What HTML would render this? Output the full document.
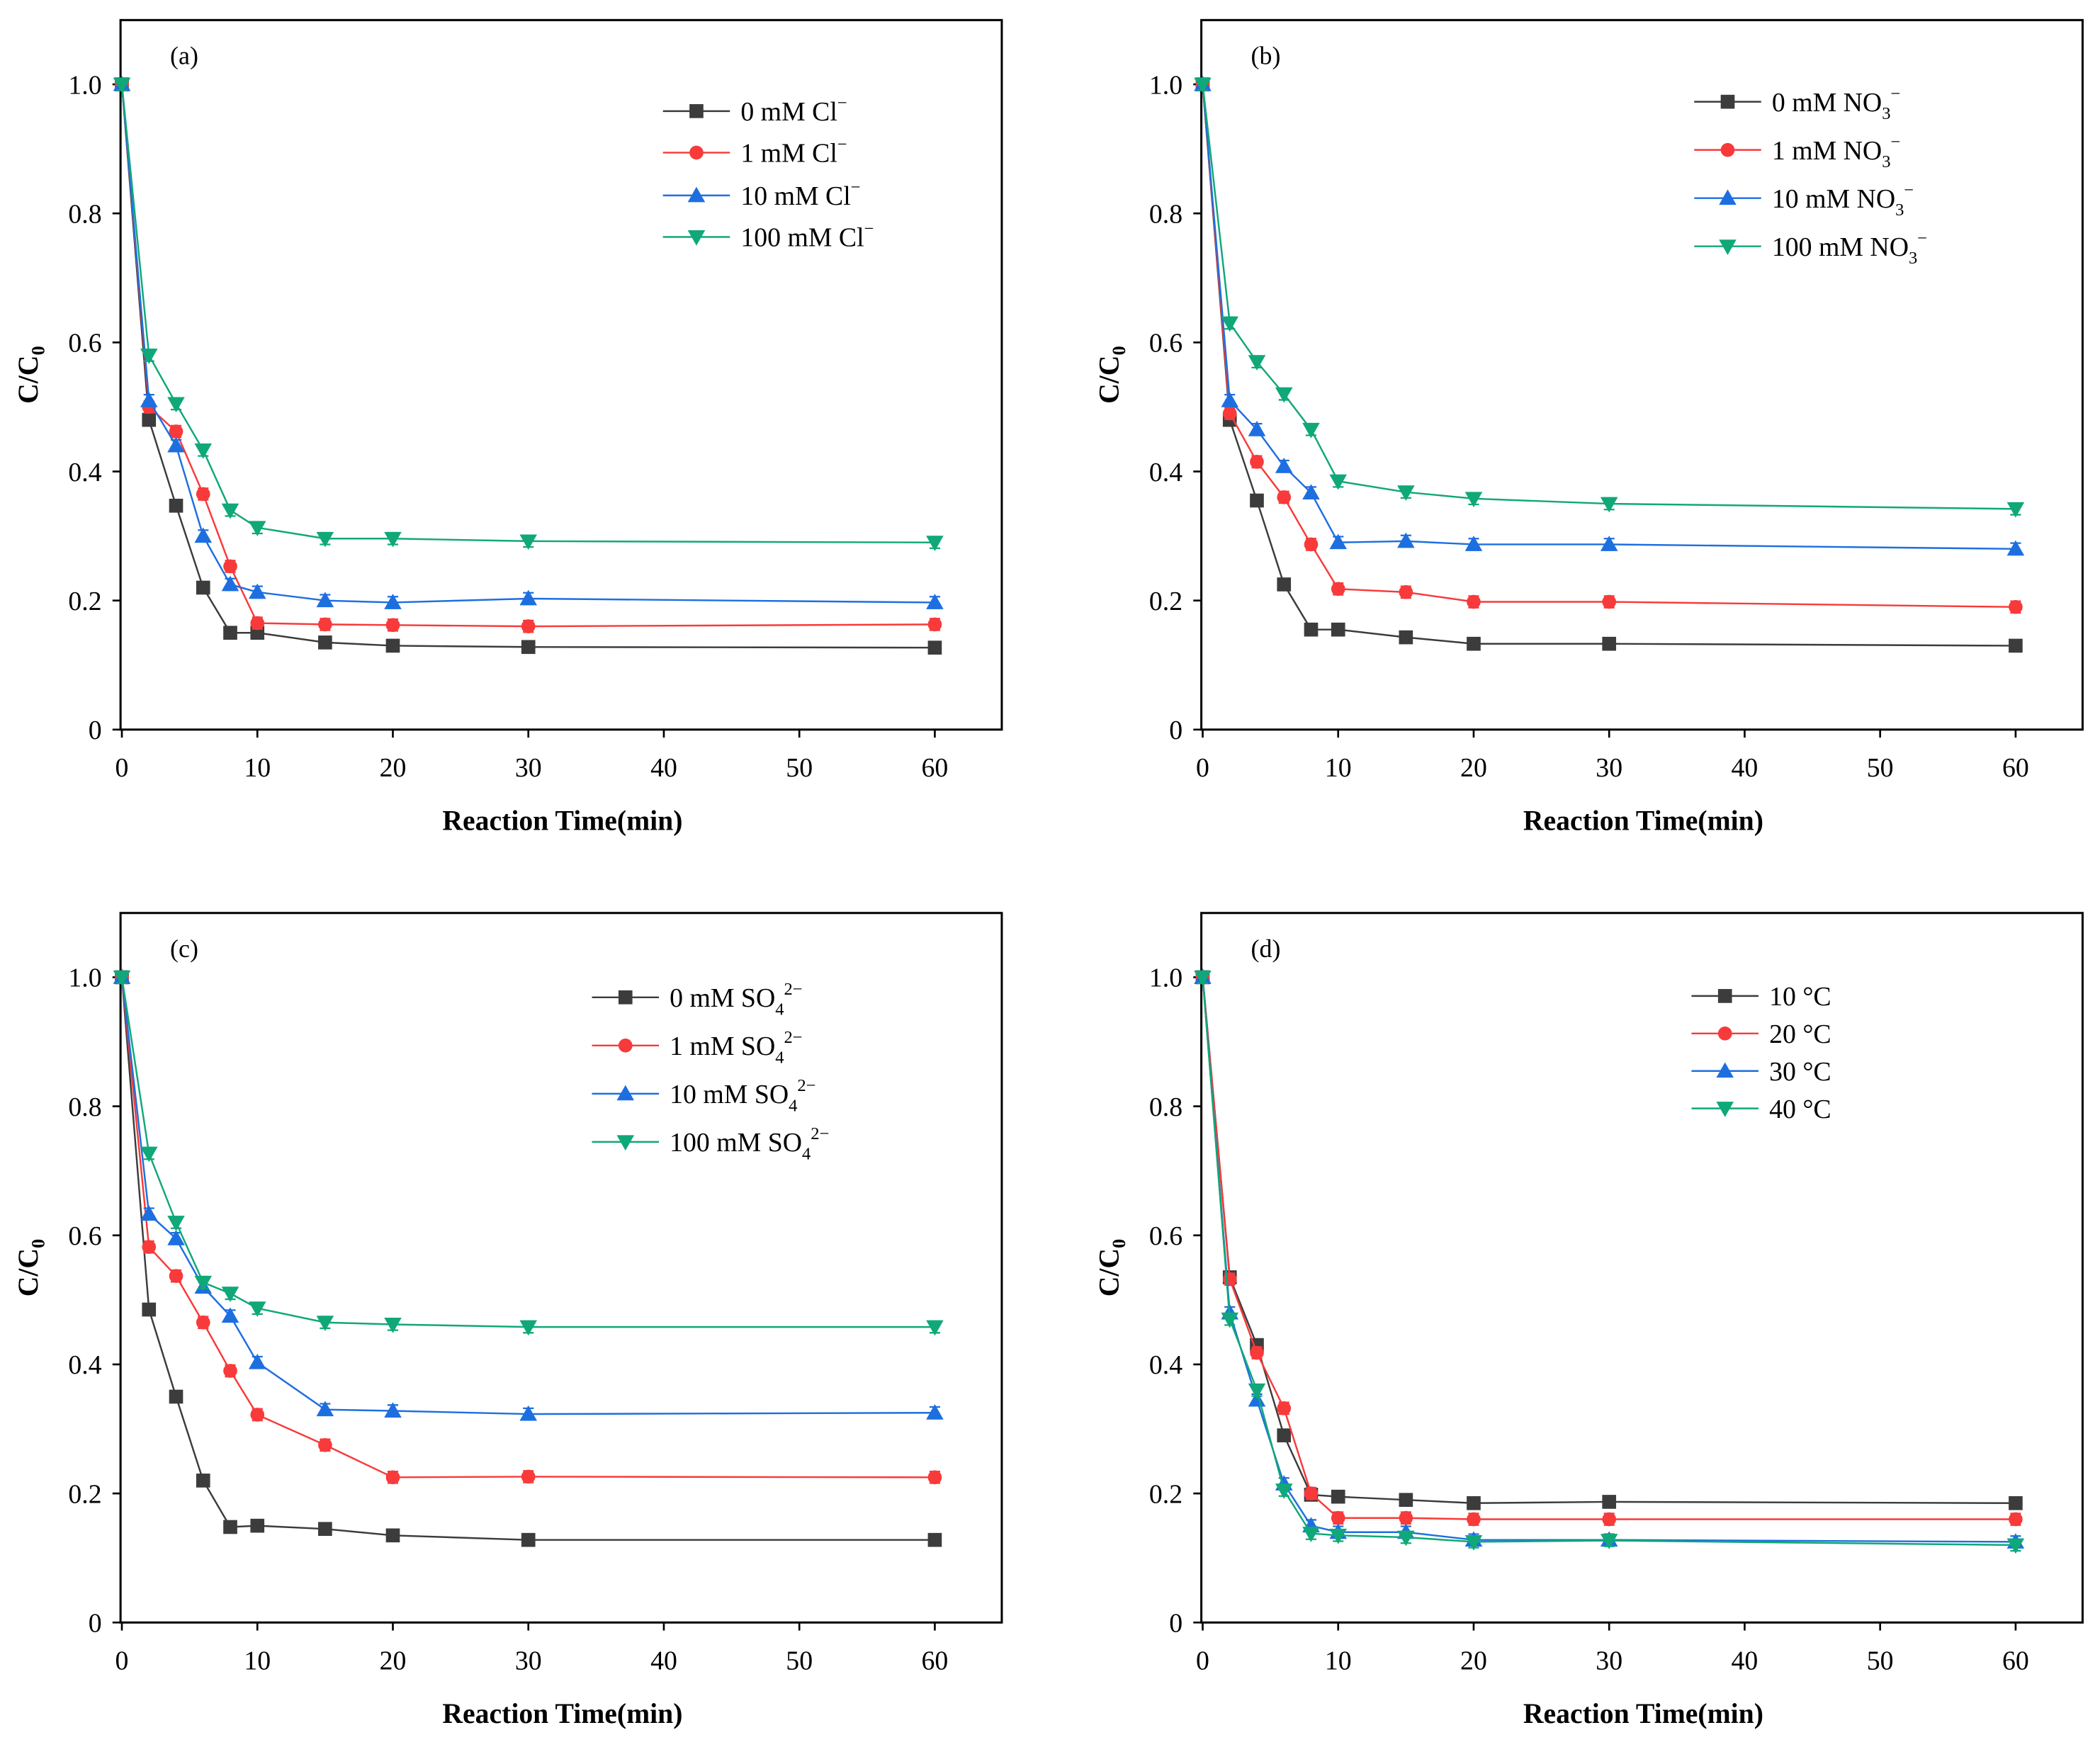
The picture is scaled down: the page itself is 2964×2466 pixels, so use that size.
<!DOCTYPE html>
<html><head><meta charset="utf-8"><style>
html,body{margin:0;padding:0;background:#fff;}
svg{display:block;font-family:"Liberation Serif",serif;}
svg text{font-family:"Liberation Serif",serif;}
</style></head><body>
<svg id="c" width="2964" height="2466" viewBox="0 0 1568 1305" preserveAspectRatio="none" xmlns="http://www.w3.org/2000/svg"></svg>
<script>
const times = [0,2,4,6,8,10,15,20,30,60];
const xTicks = [0,10,20,30,40,50,60];
const yTicks = [0,0.2,0.4,0.6,0.8,1.0];
const yTickLabels = ["0","0.2","0.4","0.6","0.8","1.0"];
const aCl0 = [1,0.48,0.347,0.22,0.15,0.15,0.135,0.13,0.128,0.127];
const aCl1 = [1,0.50,0.462,0.365,0.253,0.165,0.163,0.162,0.16,0.163];
const aCl10 = [1,0.51,0.44,0.30,0.225,0.213,0.20,0.197,0.203,0.197];
const aCl100 = [1,0.58,0.505,0.433,0.34,0.313,0.296,0.296,0.292,0.29];
const bNo0 = [1,0.48,0.355,0.225,0.155,0.155,0.143,0.133,0.133,0.13];
const bNo1 = [1,0.49,0.415,0.36,0.287,0.218,0.213,0.198,0.198,0.19];
const bNo10 = [1,0.51,0.465,0.408,0.367,0.29,0.292,0.287,0.287,0.28];
const bNo100 = [1,0.63,0.57,0.52,0.465,0.385,0.368,0.358,0.35,0.342];
const cSo0 = [1,0.485,0.35,0.22,0.148,0.15,0.145,0.135,0.128,0.128];
const cSo1 = [1,0.582,0.537,0.465,0.39,0.322,0.275,0.225,0.226,0.225];
const cSo10 = [1,0.633,0.595,0.52,0.475,0.403,0.33,0.328,0.323,0.325];
const cSo100 = [1,0.727,0.62,0.527,0.51,0.487,0.465,0.462,0.458,0.458];
const dT10 = [1,0.535,0.43,0.29,0.198,0.195,0.19,0.185,0.187,0.185];
const dT20 = [1,0.532,0.418,0.332,0.2,0.162,0.162,0.16,0.16,0.16];
const dT30 = [1,0.48,0.345,0.215,0.15,0.14,0.14,0.128,0.128,0.125];
const dT40 = [1,0.47,0.36,0.205,0.138,0.135,0.132,0.125,0.127,0.12];

const COLORS=["#3c3c3c","#f83a3a","#1d6fe0","#10a878"];
const MARKS=["square","circle","up","down"];
const NS="http://www.w3.org/2000/svg";
const svg=document.getElementById('c');
function el(tag,attrs,parent){const e=document.createElementNS(NS,tag);for(const k in attrs)e.setAttribute(k,attrs[k]);(parent||svg).appendChild(e);return e;}

const panels=[
 {id:'a',L:90,T:15,x0:91,y0:545,label:'(a)',series:[aCl0,aCl1,aCl10,aCl100],
  leg:{x1:495,rows:[83,114,146,177]},names:[['0 mM Cl','−',''],['1 mM Cl','−',''],['10 mM Cl','−',''],['100 mM Cl','−','']]},
 {id:'b',L:897,T:15,x0:898,y0:545,label:'(b)',series:[bNo0,bNo1,bNo10,bNo100],
  leg:{x1:1265,rows:[76,112,148,184]},names:[['0 mM NO','−','3'],['1 mM NO','−','3'],['10 mM NO','−','3'],['100 mM NO','−','3']]},
 {id:'c',L:90,T:682,x0:91,y0:1212,label:'(c)',series:[cSo0,cSo1,cSo10,cSo100],
  leg:{x1:442,rows:[745,781,817,853]},names:[['0 mM SO','2−','4'],['1 mM SO','2−','4'],['10 mM SO','2−','4'],['100 mM SO','2−','4']]},
 {id:'d',L:897,T:682,x0:898,y0:1212,label:'(d)',series:[dT10,dT20,dT30,dT40],
  leg:{x1:1263,rows:[744,772,800,828]},names:[['10 °C','',''],['20 °C','',''],['30 °C','',''],['40 °C','','']]}
];

function marker(g,type,x,y,col){
  const s=5.2;let m;
  if(type==='square')m=el('rect',{x:x-s,y:y-s,width:2*s,height:2*s,fill:col},g);
  else if(type==='circle')m=el('circle',{cx:x,cy:y,r:s,fill:col},g);
  else if(type==='up')m=el('polygon',{points:`${x},${y-6.5} ${x-6.5},${y+5} ${x+6.5},${y+5}`,fill:col},g);
  else m=el('polygon',{points:`${x},${y+6.5} ${x-6.5},${y-5} ${x+6.5},${y-5}`,fill:col},g);
  
  
}

panels.forEach(p=>{
  const W=658,H=530;
  const xs=v=>p.x0+v*(607/60);
  const ys=v=>p.y0-v*482;
  const g=el('g',{});
  
  
  const fr=el('rect',{x:p.L,y:p.T,width:W,height:H,fill:'none',stroke:'#000','stroke-width':1.6},g);
  
  
  xTicks.forEach(t=>{
    el('line',{x1:xs(t),x2:xs(t),y1:p.T+H,y2:p.T+H+6,stroke:'#000','stroke-width':1.4},g);
    const tx=el('text',{x:xs(t),y:p.T+H+35,'text-anchor':'middle','font-size':20,'font-family':'Liberation Serif, serif'},g);
    tx.textContent=t;
    
    
  });
  yTicks.forEach((t,i)=>{
    el('line',{x1:p.L-6,x2:p.L,y1:ys(t),y2:ys(t),stroke:'#000','stroke-width':1.4},g);
    const tx=el('text',{x:p.L-14,y:ys(t)+7,'text-anchor':'end','font-size':20,'font-family':'Liberation Serif, serif'},g);
    tx.textContent=yTickLabels[i];
    
    
  });
  const xt=el('text',{x:p.L+330,y:p.T+H+75,'text-anchor':'middle','font-size':21,'font-weight':'bold','font-family':'Liberation Serif, serif'},g);
  xt.textContent='Reaction Time(min)';
  
  
  const yt=el('text',{transform:`translate(${p.L-62},${p.T+265}) rotate(-90)`,'text-anchor':'middle','font-size':21,'font-weight':'bold','font-family':'Liberation Serif, serif'},g);
  yt.innerHTML='C/C<tspan font-size="14" dy="5">0</tspan>';
  
  
  const pl=el('text',{x:p.L+37,y:p.T+33,'font-size':19,'font-family':'Liberation Serif, serif'},g);
  pl.textContent=p.label;
  
  
  p.series.forEach((vals,si)=>{
    const col=COLORS[si];
    const sg=el('g',{},g);
    
    
    el('polyline',{points:vals.map((v,i)=>xs(times[i])+','+ys(v)).join(' '),fill:'none',stroke:col,'stroke-width':1.3},sg);
    vals.forEach((v,i)=>{
      const x=xs(times[i]),y1=ys(v+0.009),y2=ys(v-0.009);
      el('path',{d:`M${x},${y1}V${y2}M${x-4},${y1}H${x+4}M${x-4},${y2}H${x+4}`,stroke:col,'stroke-width':1.2,fill:'none'},sg);
      marker(sg,MARKS[si],x,ys(v),col);
    });
    const ly=p.leg.rows[si];
    const lg=el('g',{},g);
    
    
    el('line',{x1:p.leg.x1,x2:p.leg.x1+50,y1:ly,y2:ly,stroke:col,'stroke-width':1.3},lg);
    marker(lg,MARKS[si],p.leg.x1+25,ly,col);
    const n=p.names[si];
    const t=el('text',{x:p.leg.x1+58,y:ly+7,'font-size':20,'font-family':'Liberation Serif, serif'},lg);
    let h=n[0];
    if(n[2]&&n[1])h+=`<tspan font-size="13" dy="6">${n[2]}</tspan><tspan font-size="13" dy="-15">${n[1]}</tspan>`;
    else if(n[1])h+=`<tspan font-size="13" dy="-9">${n[1]}</tspan>`;
    t.innerHTML=h;
  });
});
</script>
</body></html>
